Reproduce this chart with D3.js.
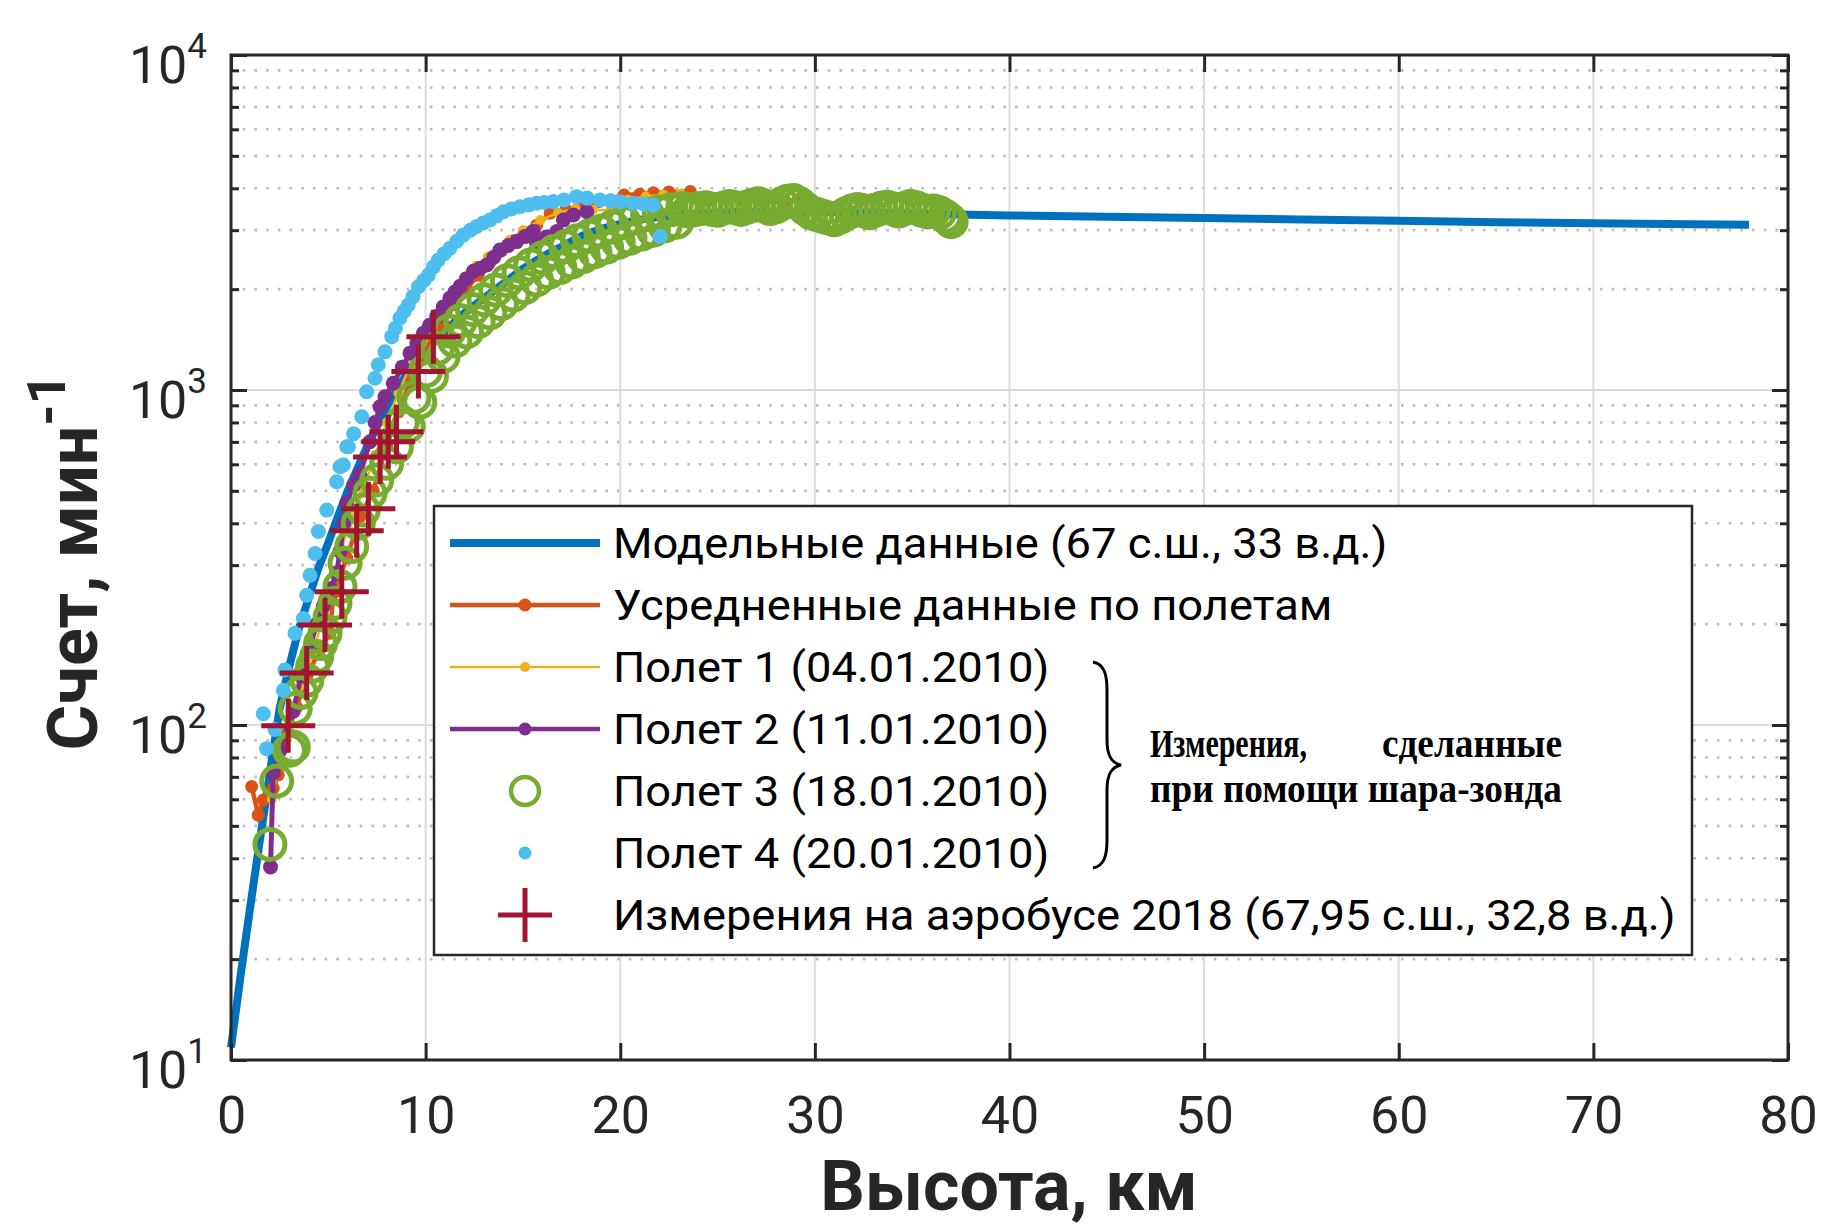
<!DOCTYPE html>
<html>
<head>
<meta charset="utf-8">
<script src="https://cdn.jsdelivr.net/npm/d3@7"></script>
<style>
  body { margin: 0; background: #fff; }
  svg { display: block; }
  text { font-family: Roboto, 'Noto Sans', sans-serif; }
</style>
</head>
<body>
<svg></svg>
<script>
'use strict';

// model curve (67 N, 33 E)
var modelKm  = [0, 0.5, 1, 1.5, 2, 2.5, 3, 3.5, 4, 4.5, 5, 5.5, 6, 7, 8, 9, 10, 11, 12, 13, 14, 15, 16, 17, 18, 19, 20, 21, 22, 24, 26, 28, 30, 33, 36, 40, 45, 50, 55, 60, 65, 70, 75, 78];
var modelVal = [10.9, 18, 29, 46, 72, 112, 150, 195, 240, 295, 350, 420, 500, 680, 890, 1110, 1320, 1500, 1700, 1880, 2080, 2300, 2500, 2680, 2880, 3020, 3130, 3220, 3290, 3360, 3400, 3410, 3400, 3380, 3350, 3320, 3290, 3260, 3230, 3200, 3170, 3145, 3125, 3115];

// averaged over flights
var avgKm  = [1.06, 1.40, 1.66, 2.17, 2.43, 2.9, 3.37, 3.9, 4.5, 5.09, 5.26, 5.95, 6.63, 7.31, 8.0, 8.6, 9.2, 9.8, 10.4, 10.9, 11.5, 12.1, 12.7, 13.3, 13.9, 14.5, 15.1, 15.7, 16.4, 17.2, 18.0, 18.9, 20.2, 21.0, 21.7, 22.5, 23.6, 24.6, 25.4, 26.3, 27.3, 28.4, 29.2, 30.1];
var avgVal = [65.5, 53.8, 59.7, 64.7, 71, 95, 113, 140, 165, 188, 247, 315, 419, 501, 680, 860, 1060, 1260, 1450, 1581, 1800, 2000, 2200, 2400, 2600, 2790, 2950, 3100, 3370, 3450, 3550, 3650, 3819, 3840, 3880, 3900, 3910, 3690, 3720, 3690, 3660, 3650, 3700, 3609];

// flight 1 (04.01.2010)
var f1Km  = [2.1, 2.5, 3.0, 3.5, 4.2, 4.8, 5.4, 6.0, 6.8, 7.4, 8.0, 8.6, 9.2, 9.8, 10.4, 11.0, 11.4, 12.0, 12.6, 13.2, 13.65, 14.3, 15.0, 15.9, 16.8, 17.7, 18.6, 19.5, 20.4, 21.3, 22.2, 23.1];
var f1Val = [60, 80, 100, 130, 164, 215, 290, 390, 500, 640, 800, 980, 1180, 1380, 1580, 1790, 1950, 2150, 2350, 2500, 2588, 2800, 3000, 3216, 3380, 3480, 3450, 3443, 3700, 3780, 3830, 3860];

// flight 2 (11.01.2010)
var f2Km  = [2.03, 2.17, 2.52, 3.2, 3.6, 4.06, 4.4, 4.74, 5.1, 5.43, 5.6, 5.8, 5.95, 6.3, 6.63, 7.14, 7.4, 7.66, 7.91, 8.34, 8.8, 9.2, 9.55, 9.88, 10.2, 10.57, 10.9, 11.25, 11.5, 11.77, 12.1, 12.45, 12.8, 13.14, 13.5, 13.82, 14.25, 14.68, 15.1, 15.53, 15.7, 16.2, 16.74, 17.08, 17.59, 18.28];
var f2Val = [37.7, 72, 84, 110, 140, 171, 200, 226, 255, 284, 330, 400, 460, 520, 560, 701, 800, 891, 955, 1047, 1170, 1288, 1380, 1476, 1560, 1656, 1770, 1880, 1960, 2039, 2150, 2260, 2310, 2361, 2490, 2618, 2700, 2773, 2870, 2972, 2742, 2860, 2972, 3216, 3329, 3406];

// flight 3 (18.01.2010)
var f3Km  = [2.0, 2.35, 3.0, 3.2, 3.3, 3.6, 3.9, 4.2, 4.4, 4.6, 4.83, 5.09, 5.34, 5.6, 5.86, 6.2, 6.54, 6.8, 7.14, 7.49, 8.0, 8.5, 8.8, 9.1, 9.4, 9.7, 10.0, 10.3, 10.6, 10.9, 11.2, 11.5, 11.8, 12.1, 12.4, 12.7, 13.0, 13.3, 13.6, 13.9, 14.2, 14.5, 14.8, 15.1, 15.4, 15.7, 16.0, 16.3, 16.6, 16.9, 17.2, 17.5, 17.8, 18.1, 18.4, 18.7, 19.0, 19.3, 19.6, 19.9, 20.2, 20.5, 20.8, 21.1, 21.4, 21.7, 22.0, 22.3, 22.6, 22.9, 23.2, 23.5, 23.8, 24.1, 24.4, 24.7, 25.0, 25.3, 25.6, 25.9, 26.2, 26.5, 26.8, 27.1, 27.4, 27.7, 28.0, 28.3, 28.6, 28.9, 29.2, 29.5, 29.8, 30.1, 30.4, 30.7, 31.0, 31.3, 31.6, 31.9, 32.2, 32.5, 32.8, 33.1, 33.4, 33.7, 34.0, 34.3, 34.6, 34.9, 35.2, 35.5, 35.8, 36.1, 36.4, 36.7, 36.9, 37.0];
var f3Val = [44, 68, 84, 86, 112, 125, 136, 150, 160, 175, 188, 210, 231, 259, 304, 341, 400, 438, 492, 539, 604, 677, 800, 780, 950, 920, 1140, 1100, 1330, 1260, 1500, 1400, 1610, 1490, 1740, 1600, 1860, 1700, 1990, 1810, 2120, 1920, 2240, 2020, 2360, 2130, 2480, 2240, 2590, 2320, 2680, 2410, 2790, 2500, 2880, 2590, 2980, 2670, 3070, 2760, 3170, 2840, 3260, 2920, 3340, 3000, 3400, 3090, 3450, 3170, 3480, 3420, 3450, 3480, 3500, 3460, 3440, 3490, 3530, 3500, 3460, 3510, 3560, 3600, 3540, 3480, 3520, 3600, 3660, 3680, 3600, 3480, 3380, 3340, 3300, 3260, 3220, 3280, 3360, 3420, 3460, 3430, 3380, 3440, 3490, 3510, 3470, 3420, 3480, 3530, 3500, 3440, 3400, 3420, 3380, 3300, 3230, 3180];

// flight 4 (20.01.2010)
var f4Km  = [1.66, 1.83, 2.26, 2.69, 2.77, 3.29, 3.72, 3.89, 4.06, 4.32, 4.49, 4.92, 5.43, 5.6, 5.77, 5.95, 6.03, 6.3, 6.72, 6.97, 7.4, 7.57, 7.91, 8.26, 8.45, 8.68, 8.9, 9.11, 9.35, 9.63, 9.9, 10.14, 10.4, 10.65, 10.95, 11.25, 11.6, 11.94, 12.3, 12.62, 12.95, 13.3, 13.65, 14.0, 14.4, 14.85, 15.3, 15.7, 16.1, 16.56, 17.1, 17.76, 18.3, 18.96, 19.5, 20.0, 20.67, 21.2, 21.7, 22.05];
var f4Val = [108, 85, 97, 127, 146, 188, 208, 244, 280, 325, 378, 438, 532, 590, 597, 677, 677, 740, 832, 988, 1084, 1189, 1301, 1443, 1530, 1640, 1720, 1794, 1900, 2033, 2120, 2203, 2330, 2443, 2550, 2649, 2780, 2904, 3000, 3076, 3150, 3216, 3310, 3406, 3470, 3525, 3570, 3609, 3630, 3651, 3690, 3777, 3740, 3690, 3670, 3650, 3609, 3590, 3567, 2872];

// aerobus 2018
var busKm  = [2.94, 3.89, 4.83, 5.69, 6.46, 7.06, 7.66, 8.08, 8.5, 9.63, 10.4];
var busVal = [99.5, 143, 199, 250, 380, 442, 631, 701, 751, 1135, 1443];

var xTicks = [0, 10, 20, 30, 40, 50, 60, 70, 80];
var yDecades = [1, 2, 3, 4];
var legendLabels = [
    'Модельные данные (67 с.ш., 33 в.д.)',
    'Усредненные данные по полетам',
    'Полет 1 (04.01.2010)',
    'Полет 2 (11.01.2010)',
    'Полет 3 (18.01.2010)',
    'Полет 4 (20.01.2010)',
    'Измерения на аэробусе 2018 (67,95 с.ш., 32,8 в.д.)'
];
var noteLines = ['Измерения,', 'сделанные', 'при помощи шара-зонда'];

function render() {
    var w = 1821;
    var h = 1227;
    var d3 = window.d3;
    var ink = '#262626';

    var svg = d3.select('svg').attr('width', w).attr('height', h);

    var x = d3.scaleLinear().domain([0, 80]).range([231, 1788]);
    var y = d3.scaleLog().domain([10, 10000]).range([1060, 55]);

    var minorVals = [];
    yDecades.slice(0, 3).forEach(function (e) {
        for (var k = 2; k <= 9; k++) minorVals.push(k * Math.pow(10, e));
    });
    var majorVals = yDecades.map(function (e) { return Math.pow(10, e); });

    // grid
    var grid = svg.append('g');
    grid.selectAll('.ymin').data(minorVals).enter().append('line')
        .attr('x1', x(0)).attr('x2', x(80))
        .attr('y1', function (d) { return y(d); }).attr('y2', function (d) { return y(d); })
        .attr('stroke', '#bdbdbd').attr('stroke-width', 2.6).attr('stroke-dasharray', '2.6,9.1');
    grid.selectAll('.xmaj').data(xTicks.slice(1, -1)).enter().append('line')
        .attr('x1', function (d) { return x(d); }).attr('x2', function (d) { return x(d); })
        .attr('y1', y(10)).attr('y2', y(10000))
        .attr('stroke', '#dcdcdc').attr('stroke-width', 2);
    grid.selectAll('.ymaj').data(majorVals.slice(1, -1)).enter().append('line')
        .attr('x1', x(0)).attr('x2', x(80))
        .attr('y1', function (d) { return y(d); }).attr('y2', function (d) { return y(d); })
        .attr('stroke', '#dcdcdc').attr('stroke-width', 2);

    function pts(ks, vs) {
        return ks.map(function (k, i) { return [k, vs[i]]; });
    }
    var line = d3.line().x(function (d) { return x(d[0]); }).y(function (d) { return y(d[1]); });

    var plot = svg.append('g');

    // model
    plot.append('path').datum(pts(modelKm, modelVal)).attr('d', line)
        .attr('fill', 'none').attr('stroke', '#0072BD').attr('stroke-width', 8);

    function lineDots(data, color, lw, r) {
        plot.append('path').datum(data).attr('d', line)
            .attr('fill', 'none').attr('stroke', color).attr('stroke-width', lw);
        plot.selectAll(null).data(data).enter().append('circle')
            .attr('cx', function (d) { return x(d[0]); })
            .attr('cy', function (d) { return y(d[1]); })
            .attr('r', r).attr('fill', color);
    }
    lineDots(pts(avgKm, avgVal), '#D95319', 4.5, 6.5);
    lineDots(pts(f1Km, f1Val), '#EDB120', 2.5, 5);
    lineDots(pts(f2Km, f2Val), '#7E2F8E', 5, 7.5);

    plot.selectAll(null).data(pts(f3Km, f3Val)).enter().append('circle')
        .attr('cx', function (d) { return x(d[0]); })
        .attr('cy', function (d) { return y(d[1]); })
        .attr('r', 15).attr('fill', 'none').attr('stroke', '#77AC30').attr('stroke-width', 5);

    plot.selectAll(null).data(pts(f4Km, f4Val)).enter().append('circle')
        .attr('cx', function (d) { return x(d[0]); })
        .attr('cy', function (d) { return y(d[1]); })
        .attr('r', 7.5).attr('fill', '#4DBEEE');

    var plus = 'M-27,0H27M0,-27V27';
    plot.selectAll(null).data(pts(busKm, busVal)).enter().append('path')
        .attr('transform', function (d) { return 'translate(' + x(d[0]) + ',' + y(d[1]) + ')'; })
        .attr('d', plus).attr('stroke', '#A2142F').attr('stroke-width', 5).attr('fill', 'none');

    // axes box and ticks (inward, mirrored)
    function styleAxis(g) {
        g.select('.domain').remove();
        g.selectAll('.tick line').attr('stroke', ink).attr('stroke-width', 3);
    }
    var xb = svg.append('g').attr('transform', 'translate(0,' + y(10) + ')')
        .call(d3.axisBottom(x).tickValues(xTicks).tickSize(-17).tickPadding(36).tickFormat(d3.format('d')));
    styleAxis(xb);
    xb.selectAll('text').attr('font-size', 52).attr('fill', ink).attr('font-family', 'Roboto');
    var xt = svg.append('g').attr('transform', 'translate(0,' + y(10000) + ')')
        .call(d3.axisTop(x).tickValues(xTicks).tickSize(-17).tickFormat(''));
    styleAxis(xt);

    [[d3.axisLeft, x(0)], [d3.axisRight, x(80)]].forEach(function (a) {
        var gMaj = svg.append('g').attr('transform', 'translate(' + a[1] + ',0)')
            .call(a[0](y).tickValues(majorVals).tickSize(-16).tickFormat(''));
        styleAxis(gMaj);
        var gMin = svg.append('g').attr('transform', 'translate(' + a[1] + ',0)')
            .call(a[0](y).tickValues(minorVals).tickSize(-8).tickFormat(''));
        styleAxis(gMin);
    });

    svg.append('rect').attr('x', x(0)).attr('y', y(10000))
        .attr('width', x(80) - x(0)).attr('height', y(10) - y(10000))
        .attr('fill', 'none').attr('stroke', ink).attr('stroke-width', 3);

    // y tick labels 10^n
    var yl = svg.append('g');
    yDecades.forEach(function (e) {
        var t = yl.append('text').attr('x', 207).attr('y', y(Math.pow(10, e)) + 28)
            .attr('text-anchor', 'end').attr('fill', ink).attr('font-size', 52);
        t.append('tspan').text('10');
        t.append('tspan').attr('font-size', 35).attr('dy', -25).text(String(e));
    });

    // axis titles
    svg.append('text').attr('x', 1009).attr('y', 1210).attr('text-anchor', 'middle')
        .attr('font-size', 70).attr('font-weight', 'bold').attr('fill', ink)
        .text('Высота, км');
    var yt = svg.append('text').attr('transform', 'translate(97,562) rotate(-90)')
        .attr('text-anchor', 'middle').attr('font-size', 70).attr('font-weight', 'bold').attr('fill', ink);
    yt.append('tspan').text('Счет, мин');
    yt.append('tspan').attr('font-size', 54).attr('dy', -32).text('-1');

    // legend
    var lg = svg.append('g');
    lg.append('rect').attr('x', 434).attr('y', 506).attr('width', 1692 - 434).attr('height', 955 - 506)
        .attr('fill', '#fff').attr('stroke', ink).attr('stroke-width', 2.5);
    var rowY = d3.scaleLinear().domain([0, 6]).range([543, 915]);
    var lx1 = 450, lx2 = 600, lm = 525;
    var styles = [
        { c: '#0072BD', lw: 8 },
        { c: '#D95319', lw: 4.5, r: 6.5 },
        { c: '#EDB120', lw: 2.5, r: 5 },
        { c: '#7E2F8E', lw: 4.5, r: 6.5 },
        { c: '#77AC30', ring: 14 },
        { c: '#4DBEEE', r: 6.5 },
        { c: '#A2142F', plus: true }
    ];
    var legTexts = [];
    styles.forEach(function (s, i) {
        var cy = rowY(i);
        if (s.lw) {
            lg.append('line').attr('x1', lx1).attr('x2', lx2).attr('y1', cy).attr('y2', cy)
                .attr('stroke', s.c).attr('stroke-width', s.lw);
        }
        if (s.r) lg.append('circle').attr('cx', lm).attr('cy', cy).attr('r', s.r).attr('fill', s.c);
        if (s.ring) {
            lg.append('circle').attr('cx', lm).attr('cy', cy).attr('r', s.ring)
                .attr('fill', 'none').attr('stroke', s.c).attr('stroke-width', 4.5);
        }
        if (s.plus) {
            lg.append('path').attr('transform', 'translate(' + lm + ',' + cy + ')').attr('d', plus)
                .attr('stroke', s.c).attr('stroke-width', 5);
        }
        legTexts.push(lg.append('text').attr('x', 0).attr('y', 0).attr('font-size', 42).attr('fill', '#000')
            .datum(cy).text(legendLabels[i]));
    });
    // the widest row spans x 613..1676 in the picture; stretch all rows alike
    var sx = 1063 / legTexts[6].node().getComputedTextLength();
    legTexts.forEach(function (t) {
        t.attr('transform', 'translate(613,' + (t.datum() + 15) + ') scale(' + sx + ',1)');
    });

    // brace + note
    lg.append('path')
        .attr('d', 'M1093,662 C1104,664 1107,674 1107,690 L1107,740 C1107,755 1111,763 1121,765 ' +
            'C1111,767 1107,775 1107,790 L1107,840 C1107,856 1104,866 1093,868')
        .attr('fill', 'none').attr('stroke', '#000').attr('stroke-width', 3);

    // bold serif note squeezed to the widths seen in the picture
    function fitText(str, x0, base, width) {
        var t = lg.append('text').attr('x', 0).attr('y', 0)
            .style('font-family', "'Liberation Serif', 'DejaVu Serif', serif")
            .attr('font-weight', 'bold').attr('font-size', 40).attr('fill', '#000').text(str);
        var len = t.node().getComputedTextLength();
        t.attr('transform', 'translate(' + x0 + ',' + base + ') scale(' + (width / len) + ',1)');
    }
    fitText(noteLines[0], 1150, 757, 157);
    fitText(noteLines[1], 1382, 757, 180);
    fitText(noteLines[2], 1150, 802, 412);
}

render();
</script>
</body>
</html>
